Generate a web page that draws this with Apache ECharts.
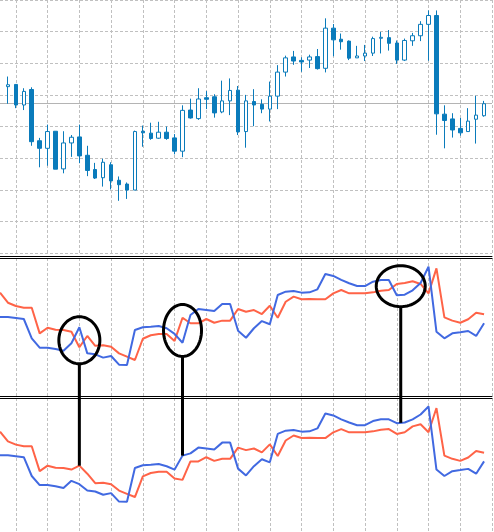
<!DOCTYPE html>
<html><head><meta charset="utf-8">
<script src="https://cdn.jsdelivr.net/npm/echarts@6/dist/echarts.min.js"></script>
<style>html,body{margin:0;padding:0;background:#fff;overflow:hidden}#c{width:494px;height:532px}</style>
</head><body><div id="c"></div>
<script>
// ---- data (bar -1 .. 61; candles exist for bars 0..60) ----
const categories = Array.from({length: 63}, (_, i) => 'bar ' + (i - 1));

const openP  = [52.6,53.3,46.8,51.7,35.5,33.1,38.5,26.6,34.8,36.7,30.9,26.4,23.8,27.9,23.0,21.8,19.9,38.5,37.9,36.3,38.2,36.4,32.2,45.2,42.5,49.1,49.4,44.6,48.1,51.5,38.4,47.9,47.0,45.5,49.6,57.2,62.0,60.9,61.0,62.1,58.4,71.1,67.6,67.0,61.7,62.3,63.2,67.9,68.1,66.4,61.0,67.1,68.7,72.3,75.1,43.9,42.4,39.4,38.4,42.3,43.4];
const closeP = [53.2,46.8,51.1,35.2,33.1,38.4,26.5,34.8,36.6,30.7,26.1,23.7,28.7,22.8,21.6,19.9,38.4,38.0,36.2,38.2,36.2,32.2,45.1,42.7,48.7,48.6,44.3,48.1,51.4,38.3,48.1,46.8,45.5,49.6,57.2,61.7,60.7,60.4,62.0,58.3,71.1,67.4,66.8,61.6,62.3,63.2,67.8,68.2,66.3,61.0,67.2,68.7,72.3,75.1,44.0,41.9,38.9,38.0,41.7,43.6,47.2];
const lowP   = [47.2,45.8,45.2,33.9,27.1,27.6,26.5,25.2,30.4,28.4,24.3,23.4,21.0,20.1,16.5,17.1,19.9,33.6,35.8,36.1,35.8,31.2,30.3,42.5,42.1,45.5,42.8,44.2,43.6,37.3,33.3,40.1,44.2,41.6,45.5,55.8,59.5,57.3,58.5,58.0,57.1,62.2,64.3,61.0,61.7,60.7,62.3,63.1,64.0,59.8,60.7,65.5,67.0,60.8,37.4,33.1,36.5,37.1,38.4,34.6,43.1];
const highP  = [55.8,53.3,52.1,52.4,36.4,40.6,38.5,38.5,37.3,40.6,33.9,28.5,29.8,28.7,24.2,22.3,38.7,40.3,41.2,41.5,40.0,37.6,46.7,48.8,52.1,51.2,50.2,54.5,55.2,52.8,50.0,51.8,48.6,54.2,59.4,62.4,63.9,61.9,62.7,64.5,74.2,72.4,69.4,67.2,65.5,65.8,68.4,69.9,70.5,67.2,67.8,69.6,73.3,76.7,76.7,46.7,44.2,42.7,45.8,49.7,48.1];

// indicator, upper sub-window (as drawn live, before recalculation)
const liveRed  = [74.9,67.6,65.2,64.0,64.0,45.4,49.5,48.0,47.8,46.6,35.3,43.5,36.4,36.7,35.7,30.9,28.5,26.1,41.5,44.0,44.9,44.9,39.9,56.7,52.7,52.7,55.8,53.1,54.6,54.6,63.0,61.1,62.3,59.4,65.4,56.7,68.3,72.0,70.1,70.3,70.1,70.1,74.4,76.8,74.4,74.4,74.4,75.1,76.3,76.8,81.2,81.9,83.1,81.2,74.4,92.5,57.0,54.6,53.1,55.6,60.4,59.2];
const liveBlue = [57.2,57.2,56.5,55.8,41.8,35.0,35.0,34.1,32.8,38.2,49.8,30.9,30.2,27.8,29.0,22.7,22.5,47.8,49.8,50.2,50.7,49.1,45.0,38.6,58.7,63.0,62.3,61.6,66.7,66.7,47.3,42.2,49.1,54.3,52.0,73.2,75.6,76.1,74.9,75.1,77.3,88.4,87.0,84.1,81.7,79.7,79.7,82.8,84.1,84.1,73.0,73.4,76.6,81.9,93.7,46.6,41.8,45.4,46.2,47.1,43.5,52.7];
// indicator, lower sub-window (final values)
const histRed  = [74.9,67.6,65.2,64.0,64.0,45.4,49.5,48.0,47.8,46.6,49.5,43.5,36.4,36.7,35.7,30.9,28.5,26.1,41.5,44.0,44.9,44.9,39.9,38.9,52.7,52.7,55.8,53.1,54.6,54.6,63.0,61.1,62.3,59.4,65.4,56.7,68.3,72.0,70.1,70.3,70.1,70.1,74.4,76.8,74.4,74.4,74.4,75.1,76.3,76.8,73.2,74.4,78.8,80.4,74.4,92.5,57.0,54.6,53.1,55.6,60.4,59.2];
const histBlue = [57.2,57.2,56.5,55.8,41.8,35.0,35.0,34.1,32.8,38.2,35.7,30.9,30.2,27.8,29.0,22.7,22.5,47.8,49.8,50.2,50.7,49.1,46.6,57.0,58.7,63.0,62.3,61.6,66.7,66.7,47.3,42.2,49.1,54.3,52.0,73.2,75.6,76.1,74.9,75.1,77.3,88.4,87.0,84.1,81.7,79.7,79.7,82.8,84.1,84.1,81.2,81.7,84.1,87.7,93.7,46.6,41.8,45.4,46.2,47.1,43.5,52.7];

// hand-drawn annotations: category indices, centre value in upper sub-window, line end on lower-window series
const annotations = [
  {cats: [10, 10], value: 40.4, rx: 20.5, ry: 23.5, end: histRed},
  {cats: [23, 23], value: 47.5, rx: 19,   ry: 26,   end: histBlue},
  {cats: [50, 51], value: 79.6, rx: 24.5, ry: 20.5, end: histBlue}
];

// ---- styling ----
const CANDLE = '#0a7bbb', RED = '#ff6347', BLUE = '#4169e1';
const GRIDC = '#c0c0c0';
const dashed = {show: true, lineStyle: {color: GRIDC, type: [3, 2], width: 1}};
const vSplit = Object.assign({}, dashed, {interval: (i) => i % 4 === 2});

const candleData = openP.map((o, k) => [categories[k + 1], o, closeP[k], lowP[k], highP[k]]);

function xAx(grid, pos, split, offset) {
  return {type: 'category', gridIndex: grid, data: categories, boundaryGap: false, position: pos,
    offset: offset || 0,
    axisLine: {show: true, onZero: false, lineStyle: {color: '#000', width: 1}},
    axisTick: {show: false}, axisLabel: {show: false},
    splitLine: split ? vSplit : {show: false}};
}
function yAx(grid, min, max, interval, split) {
  const a = {type: 'value', gridIndex: grid, min: min, max: max, axisLine: {show: false},
    axisTick: {show: false}, axisLabel: {show: false}, splitLine: split ? dashed : {show: false}};
  if (interval) a.interval = interval;
  return a;
}
function lineS(name, data, color, xi, yi) {
  return {name: name, type: 'line', xAxisIndex: xi, yAxisIndex: yi, data: data, symbol: 'none',
    showSymbol: false, smooth: false, lineStyle: {color: color, width: 2}, itemStyle: {color: color},
    animation: false, silent: true};
}

const option = {
  animation: false,
  backgroundColor: '#ffffff',
  grid: [
    {left: -4, width: 496, top: -11, height: 264},
    {left: -4, width: 496, top: 258, height: 138},
    {left: -4, width: 496, top: 398, height: 138}
  ],
  xAxis: [xAx(0, 'bottom', true, 3), xAx(1, 'top', true), xAx(1, 'bottom', false), xAx(2, 'top', true)],
  yAxis: [yAx(0, 0, 80, 10, true), yAx(1, 0, 100, null, false), yAx(2, 0, 100, null, false)],
  series: [
    {type: 'candlestick', xAxisIndex: 0, yAxisIndex: 0, data: candleData,
     encode: {x: 0, y: [1, 2, 3, 4]}, barWidth: 4, silent: true,
     itemStyle: {color: '#ffffff', color0: CANDLE, borderColor: CANDLE, borderColor0: CANDLE, borderWidth: 1},
     markLine: {silent: true, symbol: ['none', 'none'], z: 1, label: {show: false},
       lineStyle: {color: '#b4b4b4', type: 'solid', width: 1},
       data: [{yAxis: closeP[closeP.length - 1]}]}},
    lineS('live signal', liveRed, RED, 1, 1),
    lineS('live main', liveBlue, BLUE, 1, 1),
    lineS('signal', histRed, RED, 3, 2),
    lineS('main', histBlue, BLUE, 3, 2)
  ]
};

const chart = echarts.init(document.getElementById('c'));
chart.setOption(option);

// annotations placed through the chart's own scales
const graphics = [];
annotations.forEach((a) => {
  const p1 = chart.convertToPixel({xAxisIndex: 1, yAxisIndex: 1}, [categories[a.cats[0]], a.value]);
  const p2 = chart.convertToPixel({xAxisIndex: 1, yAxisIndex: 1}, [categories[a.cats[1]], a.value]);
  const cx = (p1[0] + p2[0]) / 2, cy = p1[1];
  const endVal = (a.end[a.cats[0]] + a.end[a.cats[1]]) / 2;
  const pe = chart.convertToPixel({xAxisIndex: 3, yAxisIndex: 2}, [categories[a.cats[0]], endVal]);
  const pts = [];
  for (let i = 0; i < 72; i++) {
    const t = i / 72 * Math.PI * 2;
    pts.push([cx + a.rx * Math.cos(t), cy + a.ry * Math.sin(t)]);
  }
  graphics.push({type: 'polygon', shape: {points: pts}, style: {fill: 'none', stroke: '#000', lineWidth: 3}, z: 100, silent: true});
  graphics.push({type: 'line', shape: {x1: cx, y1: cy + a.ry, x2: cx, y2: pe[1]}, style: {stroke: '#000', lineWidth: 3}, z: 100, silent: true});
});
chart.setOption({graphic: graphics});
</script>
</body></html>
